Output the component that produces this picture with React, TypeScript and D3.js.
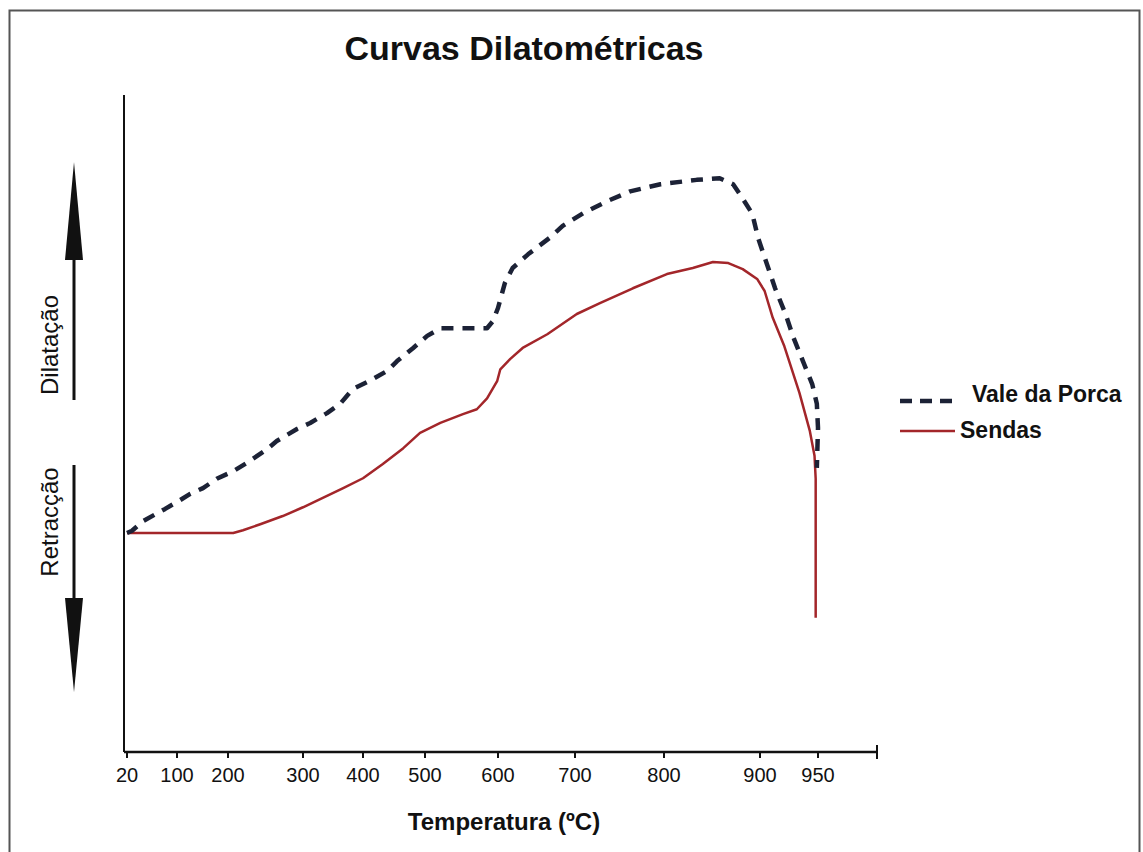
import * as d3 from "d3";

// temperatures (ºC) and relative dilatation
const valeTemp = [20, 28, 46, 81, 106, 125, 151, 178, 207, 225, 252, 265, 292, 312, 340, 362, 383, 411, 439, 455, 481, 503, 521, 585, 593, 600, 609, 619, 639, 667, 684, 709, 736, 762, 796, 834, 858, 872, 879, 892, 898, 906, 913, 922, 929, 937, 945, 949, 950, 949];
const valeDil = [0, 0.004, 0.022, 0.044, 0.06, 0.071, 0.082, 0.099, 0.113, 0.128, 0.153, 0.168, 0.19, 0.201, 0.219, 0.236, 0.263, 0.278, 0.296, 0.314, 0.338, 0.36, 0.374, 0.374, 0.387, 0.411, 0.457, 0.484, 0.509, 0.539, 0.561, 0.584, 0.606, 0.624, 0.637, 0.645, 0.648, 0.637, 0.619, 0.583, 0.539, 0.491, 0.447, 0.4, 0.356, 0.314, 0.272, 0.236, 0.192, 0.119];

const sendasTemp = [20, 207, 220, 243, 273, 300, 333, 367, 400, 432, 465, 492, 521, 552, 571, 585, 599, 603, 616, 632, 664, 702, 728, 765, 803, 830, 851, 867, 882, 897, 904, 911, 921, 934, 943, 947, 948, 948];
const sendasDil = [0, 0, 0.005, 0.016, 0.031, 0.047, 0.064, 0.082, 0.1, 0.126, 0.155, 0.183, 0.201, 0.217, 0.226, 0.246, 0.278, 0.299, 0.318, 0.338, 0.363, 0.4, 0.42, 0.447, 0.473, 0.484, 0.495, 0.493, 0.482, 0.464, 0.442, 0.393, 0.341, 0.256, 0.186, 0.141, 0.099, -0.155];

const xTicks = [20, 100, 200, 300, 400, 500, 600, 700, 800, 900, 950];
const xEnd = 1000;

const W = 1143;
const H = 852;
const left = 124;
const top = 95;
const bottom = 752;
const font = "'Liberation Sans', Arial, sans-serif";

export default function App() {
  // the printed axis is not evenly spaced, so the scale is piecewise
  const x = d3
    .scaleLinear()
    .domain([...xTicks, xEnd])
    .range([127, 177, 228, 303, 363, 425, 498, 575, 664, 760, 818, 877]);
  const y = d3.scaleLinear().domain([-0.4, 0.8]).range([bottom, top]);

  const line = d3
    .line<[number, number]>()
    .x((d) => x(d[0]))
    .y((d) => y(d[1]));

  const vale = valeTemp.map((t, i) => [t, valeDil[i]] as [number, number]);
  const sendas = sendasTemp.map((t, i) => [t, sendasDil[i]] as [number, number]);

  const arrowX = 74;

  return (
    <svg
      width={W}
      height={H}
      style={{ position: "absolute", left: 0, top: 0, background: "#fff" }}
      fontFamily={font}
    >
      <rect x={9.5} y={10.5} width={1130} height={850} fill="none" stroke="#555" strokeWidth={2} />

      <text x={524} y={60} textAnchor="middle" fontSize={34} fontWeight="bold" fill="#111">
        Curvas Dilatométricas
      </text>

      {/* axes */}
      <line x1={left} x2={left} y1={top} y2={bottom} stroke="#111" strokeWidth={2} />
      <line x1={left} x2={x(xEnd)} y1={bottom} y2={bottom} stroke="#111" strokeWidth={2.5} />
      {xTicks.map((t) => (
        <g key={t}>
          <line x1={x(t)} x2={x(t)} y1={bottom} y2={bottom + 6} stroke="#111" strokeWidth={2} />
          <text x={x(t)} y={782} textAnchor="middle" fontSize={20} fill="#111">
            {t}
          </text>
        </g>
      ))}
      <line x1={x(xEnd)} x2={x(xEnd)} y1={bottom - 7} y2={bottom + 7} stroke="#111" strokeWidth={2} />

      <text x={504} y={830} textAnchor="middle" fontSize={24} fontWeight="bold" fill="#111">
        Temperatura (ºC)
      </text>

      {/* y side labels and arrows */}
      <text transform={`translate(58,345) rotate(-90)`} textAnchor="middle" fontSize={24} fill="#111">
        Dilatação
      </text>
      <text transform={`translate(58,522) rotate(-90)`} textAnchor="middle" fontSize={24} fill="#111">
        Retracção
      </text>
      <line x1={arrowX} x2={arrowX} y1={400} y2={255} stroke="#111" strokeWidth={3} />
      <path d={`M${arrowX - 9},${260} L${arrowX},${162} L${arrowX + 9},${260} Z`} fill="#111" />
      <line x1={arrowX} x2={arrowX} y1={465} y2={605} stroke="#111" strokeWidth={3} />
      <path d={`M${arrowX - 9},${598} L${arrowX},${692} L${arrowX + 9},${598} Z`} fill="#111" />

      {/* curves */}
      <path d={line(sendas) ?? ""} fill="none" stroke="#a3262a" strokeWidth={2.5} strokeLinejoin="round" />
      <path
        d={line(vale) ?? ""}
        fill="none"
        stroke="#1c2236"
        strokeWidth={4.5}
        strokeDasharray="12 9"
        strokeLinejoin="round"
      />

      {/* legend */}
      <line x1={900} x2={952} y1={401} y2={401} stroke="#1c2236" strokeWidth={4.5} strokeDasharray="12 8" />
      <text x={972} y={402} fontSize={23} fontWeight="bold" fill="#111">
        Vale da Porca
      </text>
      <line x1={900} x2={955} y1={431} y2={431} stroke="#a3262a" strokeWidth={2.5} />
      <text x={960} y={438} fontSize={23} fontWeight="bold" fill="#111">
        Sendas
      </text>
    </svg>
  );
}
